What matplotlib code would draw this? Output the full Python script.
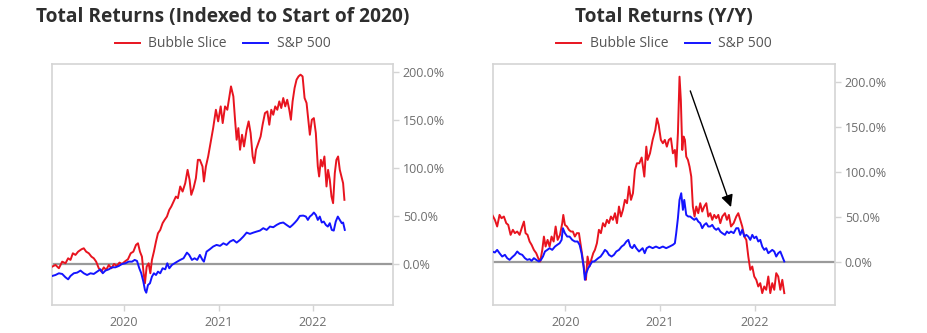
import matplotlib
matplotlib.use("Agg")
import matplotlib.pyplot as plt
import matplotlib.dates as mdates
import matplotlib.ticker as mticker
import pandas as pd

# Dates are stored as decimal years; values are total returns in percent.

# ---- Indexed to start of 2020 ----
idx_bubble_t = [
    2019.238, 2019.273, 2019.309, 2019.344, 2019.379, 2019.407, 2019.432, 2019.457, 2019.485, 2019.513,
    2019.549, 2019.573, 2019.598, 2019.626, 2019.654, 2019.679, 2019.704, 2019.732, 2019.760, 2019.785,
    2019.810, 2019.838, 2019.866, 2019.894, 2019.922, 2019.951, 2019.979, 2020.007, 2020.042, 2020.071,
    2020.099, 2020.127, 2020.148, 2020.169, 2020.190, 2020.208, 2020.222, 2020.240, 2020.261, 2020.279,
    2020.296, 2020.317, 2020.339, 2020.360, 2020.384, 2020.409, 2020.430, 2020.455, 2020.480, 2020.501,
    2020.526, 2020.550, 2020.571, 2020.596, 2020.621, 2020.649, 2020.674, 2020.695, 2020.713, 2020.737,
    2020.762, 2020.783, 2020.804, 2020.832, 2020.847, 2020.868, 2020.892, 2020.917, 2020.945, 2020.974,
    2020.998, 2021.023, 2021.044, 2021.069, 2021.093, 2021.115, 2021.132, 2021.157, 2021.175, 2021.192,
    2021.210, 2021.228, 2021.249, 2021.270, 2021.298, 2021.319, 2021.340, 2021.362, 2021.379, 2021.397,
    2021.422, 2021.446, 2021.467, 2021.492, 2021.517, 2021.538, 2021.559, 2021.580, 2021.601, 2021.623,
    2021.644, 2021.665, 2021.686, 2021.707, 2021.728, 2021.750, 2021.767, 2021.785, 2021.806, 2021.827,
    2021.848, 2021.869, 2021.891, 2021.912, 2021.933, 2021.951, 2021.968, 2021.989, 2022.011, 2022.032,
    2022.053, 2022.067, 2022.085, 2022.102, 2022.123, 2022.145, 2022.162, 2022.180, 2022.198, 2022.215,
    2022.233, 2022.250, 2022.268, 2022.286, 2022.303, 2022.321, 2022.335,
]
idx_bubble = [
    -2.8, -1.0, -4.5, 2.4, 0.7, 5.9, 4.2, 11.1, 9.4, 12.8,
    15.3, 16.3, 12.8, 11.1, 7.6, 5.9, 2.4, -4.5, -8.0, -3.5,
    -6.3, -1.0, -4.5, 0.0, -2.1, 1.4, 0.0, 2.4, 4.9, 11.1,
    12.8, 19.8, 21.5, 12.8, 7.6, -9.7, -20.1, -2.8, 0.7, -9.7,
    4.2, 12.8, 23.3, 31.9, 35.4, 42.4, 45.8, 49.3, 56.3, 59.7,
    64.9, 70.1, 68.4, 80.6, 75.3, 84.0, 97.9, 87.5, 71.9, 78.8,
    89.2, 108.3, 108.3, 101.4, 85.8, 101.4, 111.8, 125.7, 141.3, 160.4,
    148.3, 163.9, 146.5, 163.9, 160.4, 174.3, 184.7, 174.3, 150.0, 129.2,
    141.3, 118.8, 134.4, 122.2, 139.6, 148.3, 136.1, 111.8, 104.9, 118.8,
    125.7, 132.6, 144.8, 156.9, 158.7, 144.8, 160.4, 155.2, 163.9, 160.4,
    169.1, 162.2, 172.6, 163.9, 170.8, 160.4, 150.0, 169.1, 183.0, 191.7,
    195.1, 196.9, 195.1, 172.6, 167.4, 150.0, 134.4, 150.0, 151.7, 136.1,
    101.4, 91.0, 108.3, 101.4, 111.8, 80.6, 97.9, 87.5, 70.1, 63.2,
    94.4, 108.3, 111.8, 97.9, 91.0, 84.0, 66.7,
]

idx_spx_t = [
    2019.238, 2019.273, 2019.309, 2019.344, 2019.379, 2019.407, 2019.432, 2019.467, 2019.503, 2019.538,
    2019.573, 2019.608, 2019.644, 2019.679, 2019.714, 2019.750, 2019.774, 2019.802, 2019.838, 2019.873,
    2019.908, 2019.944, 2019.979, 2020.014, 2020.049, 2020.085, 2020.113, 2020.138, 2020.162, 2020.183,
    2020.205, 2020.222, 2020.236, 2020.254, 2020.275, 2020.296, 2020.317, 2020.339, 2020.360, 2020.384,
    2020.409, 2020.437, 2020.459, 2020.480, 2020.508, 2020.536, 2020.564, 2020.596, 2020.631, 2020.667,
    2020.691, 2020.720, 2020.748, 2020.776, 2020.804, 2020.832, 2020.847, 2020.875, 2020.910, 2020.945,
    2020.981, 2021.016, 2021.051, 2021.086, 2021.122, 2021.157, 2021.192, 2021.228, 2021.263, 2021.298,
    2021.333, 2021.369, 2021.404, 2021.439, 2021.474, 2021.510, 2021.545, 2021.580, 2021.616, 2021.651,
    2021.686, 2021.721, 2021.757, 2021.785, 2021.810, 2021.834, 2021.862, 2021.898, 2021.926, 2021.947,
    2021.968, 2021.989, 2022.011, 2022.032, 2022.053, 2022.074, 2022.095, 2022.116, 2022.138, 2022.159,
    2022.180, 2022.201, 2022.222, 2022.243, 2022.265, 2022.286, 2022.307, 2022.321, 2022.339,
]
idx_spx = [
    -12.5, -11.5, -9.7, -10.4, -13.9, -16.0, -12.5, -9.7, -9.0, -6.9,
    -9.7, -11.5, -9.7, -10.4, -8.0, -5.6, -9.7, -6.9, -5.6, -3.5,
    -3.5, -2.1, 0.0, 0.7, 2.4, 2.4, 4.2, 3.1, -4.5, -9.7,
    -18.4, -27.1, -29.9, -21.9, -20.1, -13.2, -9.7, -11.5, -8.0, -9.7,
    -4.5, -5.6, 0.7, -4.5, -1.0, 0.7, 2.4, 4.2, 5.9, 11.8,
    9.4, 4.2, 5.9, 4.2, 9.4, 4.2, 2.4, 12.8, 15.3, 18.1,
    19.8, 18.8, 21.5, 19.8, 23.3, 25.0, 22.2, 25.0, 28.5, 32.6,
    31.3, 32.6, 33.7, 34.7, 37.2, 35.4, 38.9, 38.2, 40.6, 42.4,
    43.1, 40.6, 38.2, 40.6, 43.1, 45.8, 50.0, 50.3, 49.3, 45.8,
    49.3, 51.0, 53.5, 51.0, 45.8, 49.3, 43.1, 44.1, 40.6, 38.9,
    42.4, 35.4, 34.7, 44.1, 49.3, 45.8, 42.4, 43.1, 35.4,
]

# ---- Year-over-year ----
yoy_bubble_t = [
    2019.228, 2019.256, 2019.280, 2019.305, 2019.326, 2019.351, 2019.376, 2019.397, 2019.422, 2019.446,
    2019.467, 2019.492, 2019.517, 2019.545, 2019.563, 2019.580, 2019.601, 2019.623, 2019.644, 2019.668,
    2019.693, 2019.714, 2019.735, 2019.757, 2019.774, 2019.792, 2019.813, 2019.834, 2019.855, 2019.877,
    2019.898, 2019.919, 2019.944, 2019.968, 2019.979, 2019.996, 2020.018, 2020.039, 2020.060, 2020.081,
    2020.102, 2020.123, 2020.145, 2020.166, 2020.187, 2020.205, 2020.219, 2020.236, 2020.257, 2020.275,
    2020.296, 2020.314, 2020.335, 2020.356, 2020.377, 2020.399, 2020.420, 2020.441, 2020.462, 2020.483,
    2020.504, 2020.526, 2020.547, 2020.568, 2020.589, 2020.610, 2020.631, 2020.653, 2020.674, 2020.695,
    2020.716, 2020.737, 2020.758, 2020.783, 2020.808, 2020.836, 2020.857, 2020.871, 2020.896, 2020.924,
    2020.952, 2020.970, 2020.988, 2021.009, 2021.030, 2021.051, 2021.072, 2021.093, 2021.115, 2021.136,
    2021.157, 2021.171, 2021.189, 2021.206, 2021.220, 2021.235, 2021.249, 2021.263, 2021.277, 2021.295,
    2021.312, 2021.330, 2021.347, 2021.365, 2021.383, 2021.404, 2021.425, 2021.446, 2021.467, 2021.489,
    2021.510, 2021.531, 2021.552, 2021.573, 2021.594, 2021.616, 2021.637, 2021.658, 2021.686, 2021.707,
    2021.728, 2021.750, 2021.778, 2021.806, 2021.827, 2021.848, 2021.869, 2021.891, 2021.912, 2021.933,
    2021.954, 2021.975, 2021.996, 2022.018, 2022.039, 2022.060, 2022.081, 2022.102, 2022.123, 2022.145,
    2022.166, 2022.187, 2022.208, 2022.229, 2022.250, 2022.272, 2022.293, 2022.314,
]
yoy_bubble = [
    52.2, 46.7, 39.3, 52.2, 48.5, 50.4, 43.0, 41.1, 30.0, 35.6,
    31.9, 33.7, 30.0, 39.3, 44.8, 31.9, 30.0, 22.6, 18.9, 13.3,
    9.6, 4.1, 0.4, 13.3, 28.1, 17.0, 24.4, 17.0, 28.1, 22.6,
    39.3, 24.4, 30.0, 43.0, 52.2, 41.1, 39.3, 35.6, 33.7, 33.7,
    28.1, 31.9, 31.9, 17.0, 2.2, -12.6, -20.0, 5.9, -5.2, 2.2,
    9.6, 13.3, 20.7, 35.6, 31.9, 43.0, 39.3, 46.7, 43.0, 50.4,
    46.7, 54.1, 43.0, 61.5, 50.4, 57.8, 68.9, 65.2, 83.7, 68.9,
    76.3, 102.2, 109.6, 109.6, 116.0, 94.8, 128.1, 113.3, 120.7, 135.6,
    146.7, 159.6, 152.2, 135.6, 131.9, 135.6, 128.1, 135.6, 137.4, 120.7,
    124.4, 105.9, 143.0, 205.9, 180.0, 124.4, 139.3, 135.6, 117.0, 113.3,
    105.9, 94.8, 61.5, 50.4, 61.5, 54.1, 65.2, 55.9, 61.5, 65.2,
    50.4, 54.1, 46.7, 52.2, 48.5, 52.2, 43.0, 50.4, 54.1, 46.7,
    52.2, 39.3, 43.0, 50.4, 54.1, 46.7, 39.3, 28.1, 24.4, 5.9,
    -8.9, -5.2, -16.3, -20.0, -27.4, -23.7, -34.8, -27.4, -31.1, -16.3,
    -34.8, -23.7, -31.1, -12.6, -16.3, -31.1, -20.0, -34.8,
]

yoy_spx_t = [
    2019.228, 2019.256, 2019.280, 2019.305, 2019.333, 2019.362, 2019.386, 2019.411, 2019.439, 2019.467,
    2019.492, 2019.517, 2019.545, 2019.573, 2019.598, 2019.623, 2019.644, 2019.668, 2019.693, 2019.721,
    2019.743, 2019.764, 2019.785, 2019.810, 2019.834, 2019.862, 2019.891, 2019.915, 2019.940, 2019.961,
    2019.975, 2019.996, 2020.021, 2020.046, 2020.074, 2020.102, 2020.131, 2020.152, 2020.173, 2020.194,
    2020.208, 2020.222, 2020.243, 2020.265, 2020.286, 2020.307, 2020.328, 2020.349, 2020.374, 2020.399,
    2020.420, 2020.441, 2020.462, 2020.490, 2020.515, 2020.540, 2020.568, 2020.596, 2020.621, 2020.646,
    2020.667, 2020.688, 2020.709, 2020.730, 2020.751, 2020.780, 2020.818, 2020.840, 2020.861, 2020.889,
    2020.924, 2020.959, 2020.995, 2021.030, 2021.065, 2021.101, 2021.136, 2021.157, 2021.171, 2021.189,
    2021.206, 2021.224, 2021.242, 2021.256, 2021.277, 2021.298, 2021.319, 2021.340, 2021.362, 2021.383,
    2021.404, 2021.425, 2021.446, 2021.467, 2021.489, 2021.510, 2021.531, 2021.552, 2021.573, 2021.594,
    2021.616, 2021.637, 2021.658, 2021.686, 2021.707, 2021.728, 2021.750, 2021.778, 2021.806, 2021.827,
    2021.848, 2021.869, 2021.891, 2021.912, 2021.933, 2021.954, 2021.975, 2021.996, 2022.018, 2022.039,
    2022.060, 2022.081, 2022.102, 2022.123, 2022.145, 2022.166, 2022.187, 2022.208, 2022.229, 2022.250,
    2022.272, 2022.293, 2022.314,
]
yoy_spx = [
    11.5, 10.4, 13.3, 9.6, 5.9, 7.8, 4.1, 2.2, 5.2, 7.8,
    11.5, 8.9, 7.8, 4.1, 2.2, 3.0, 1.1, 4.1, 2.2, 0.4,
    2.2, 5.9, 11.5, 13.3, 15.2, 13.3, 17.0, 18.9, 20.7, 24.4,
    37.4, 31.9, 28.1, 28.1, 24.4, 22.6, 22.6, 18.9, 9.6, -5.2,
    -20.0, -12.6, -7.0, -3.3, 0.4, 0.4, 2.2, 4.1, 5.9, 9.6,
    13.3, 11.5, 7.8, 5.9, 7.8, 11.5, 13.3, 17.0, 18.9, 22.6,
    24.4, 17.0, 15.2, 18.9, 15.2, 11.5, 15.2, 9.6, 15.2, 17.0,
    15.2, 17.0, 15.2, 17.0, 15.2, 17.0, 18.9, 20.7, 31.9, 48.5,
    68.9, 76.3, 57.8, 68.9, 52.2, 50.4, 50.4, 48.5, 46.7, 48.5,
    44.8, 43.0, 37.4, 41.1, 43.0, 39.3, 39.3, 41.1, 37.4, 35.6,
    37.4, 33.7, 31.9, 30.0, 33.7, 31.9, 33.7, 31.9, 37.4, 37.4,
    30.0, 35.6, 28.1, 30.0, 28.1, 24.4, 30.0, 26.3, 28.1, 22.6,
    24.4, 17.0, 13.3, 15.2, 9.6, 11.5, 13.3, 11.5, 5.9, 9.6,
    11.5, 5.9, 0.4,
]

# Arrow highlighting the roll-over in the Y/Y panel (decimal year, percent)
arrow_start = (2021.31, 193)
arrow_end = (2021.76, 58)

X_RANGE = (2019.236, 2022.85)

RED = "#e8141f"
BLUE = "#1414ff"
SPINE_GRAY = "#d4d4d4"
TEXT_GRAY = "#6e6e6e"


def to_dates(years):
    out = []
    for y in years:
        base = int(y)
        out.append(pd.Timestamp(f"{base}-01-01") + pd.Timedelta(days=(y - base) * 365.25))
    return out


plt.rcParams["font.family"] = ["Open Sans", "DejaVu Sans"]

fig = plt.figure(figsize=(9.28, 3.33), dpi=100)
ax1 = fig.add_axes([52 / 928, 28 / 333, 341 / 928, 241 / 333])
ax2 = fig.add_axes([493 / 928, 28 / 333, 342 / 928, 241 / 333])

xmin, xmax = to_dates(X_RANGE)


def style_axis(ax, title, ylim):
    ax.set_xlim(xmin, xmax)
    ax.set_ylim(*ylim)
    ax.axhline(0, color="#9a9a9a", lw=1.6, zorder=1)
    for sp in ax.spines.values():
        sp.set_color(SPINE_GRAY)
        sp.set_linewidth(1.2)
    ax.yaxis.tick_right()
    ax.yaxis.set_major_locator(mticker.MultipleLocator(50))
    ax.yaxis.set_major_formatter(mticker.FuncFormatter(lambda v, p: f"{v:.1f}%"))
    ax.xaxis.set_major_locator(mdates.YearLocator())
    ax.xaxis.set_major_formatter(mdates.DateFormatter("%Y"))
    ax.tick_params(axis="both", colors=SPINE_GRAY, labelcolor=TEXT_GRAY,
                   labelsize=9, length=4, width=1)
    ax.tick_params(axis="y", pad=3)
    ax.tick_params(axis="x", pad=4)
    ax.text(0.5, 1.195, title, transform=ax.transAxes, ha="center", va="center",
            fontsize=13.8, fontweight="bold", color="#2e2e2e")
    leg = ax.legend(loc="center", bbox_to_anchor=(0.5, 1.083), ncol=2, frameon=False,
                    fontsize=10, handlelength=1.8, columnspacing=1.2, handletextpad=0.6,
                    borderaxespad=0)
    for t in leg.get_texts():
        t.set_color("#555555")


LW = 1.4
ax1.plot(to_dates(idx_bubble_t), idx_bubble, color=RED, lw=LW, label="Bubble Slice", zorder=3)
ax1.plot(to_dates(idx_spx_t), idx_spx, color=BLUE, lw=LW, label="S&P 500", zorder=3)
style_axis(ax1, "Total Returns (Indexed to Start of 2020)", (-42.7, 208))

ax2.plot(to_dates(yoy_bubble_t), yoy_bubble, color=RED, lw=LW, label="Bubble Slice", zorder=3)
ax2.plot(to_dates(yoy_spx_t), yoy_spx, color=BLUE, lw=LW, label="S&P 500", zorder=3)
style_axis(ax2, "Total Returns (Y/Y)", (-48, 220))

(a_end_x,), (a_start_x,) = to_dates([arrow_end[0]]), to_dates([arrow_start[0]])
ax2.annotate("", xy=(a_end_x, arrow_end[1]), xytext=(a_start_x, arrow_start[1]),
             arrowprops=dict(arrowstyle="-|>", color="black", lw=1.0, mutation_scale=18),
             zorder=4)

fig.savefig("out.png", dpi=100, facecolor="white")
